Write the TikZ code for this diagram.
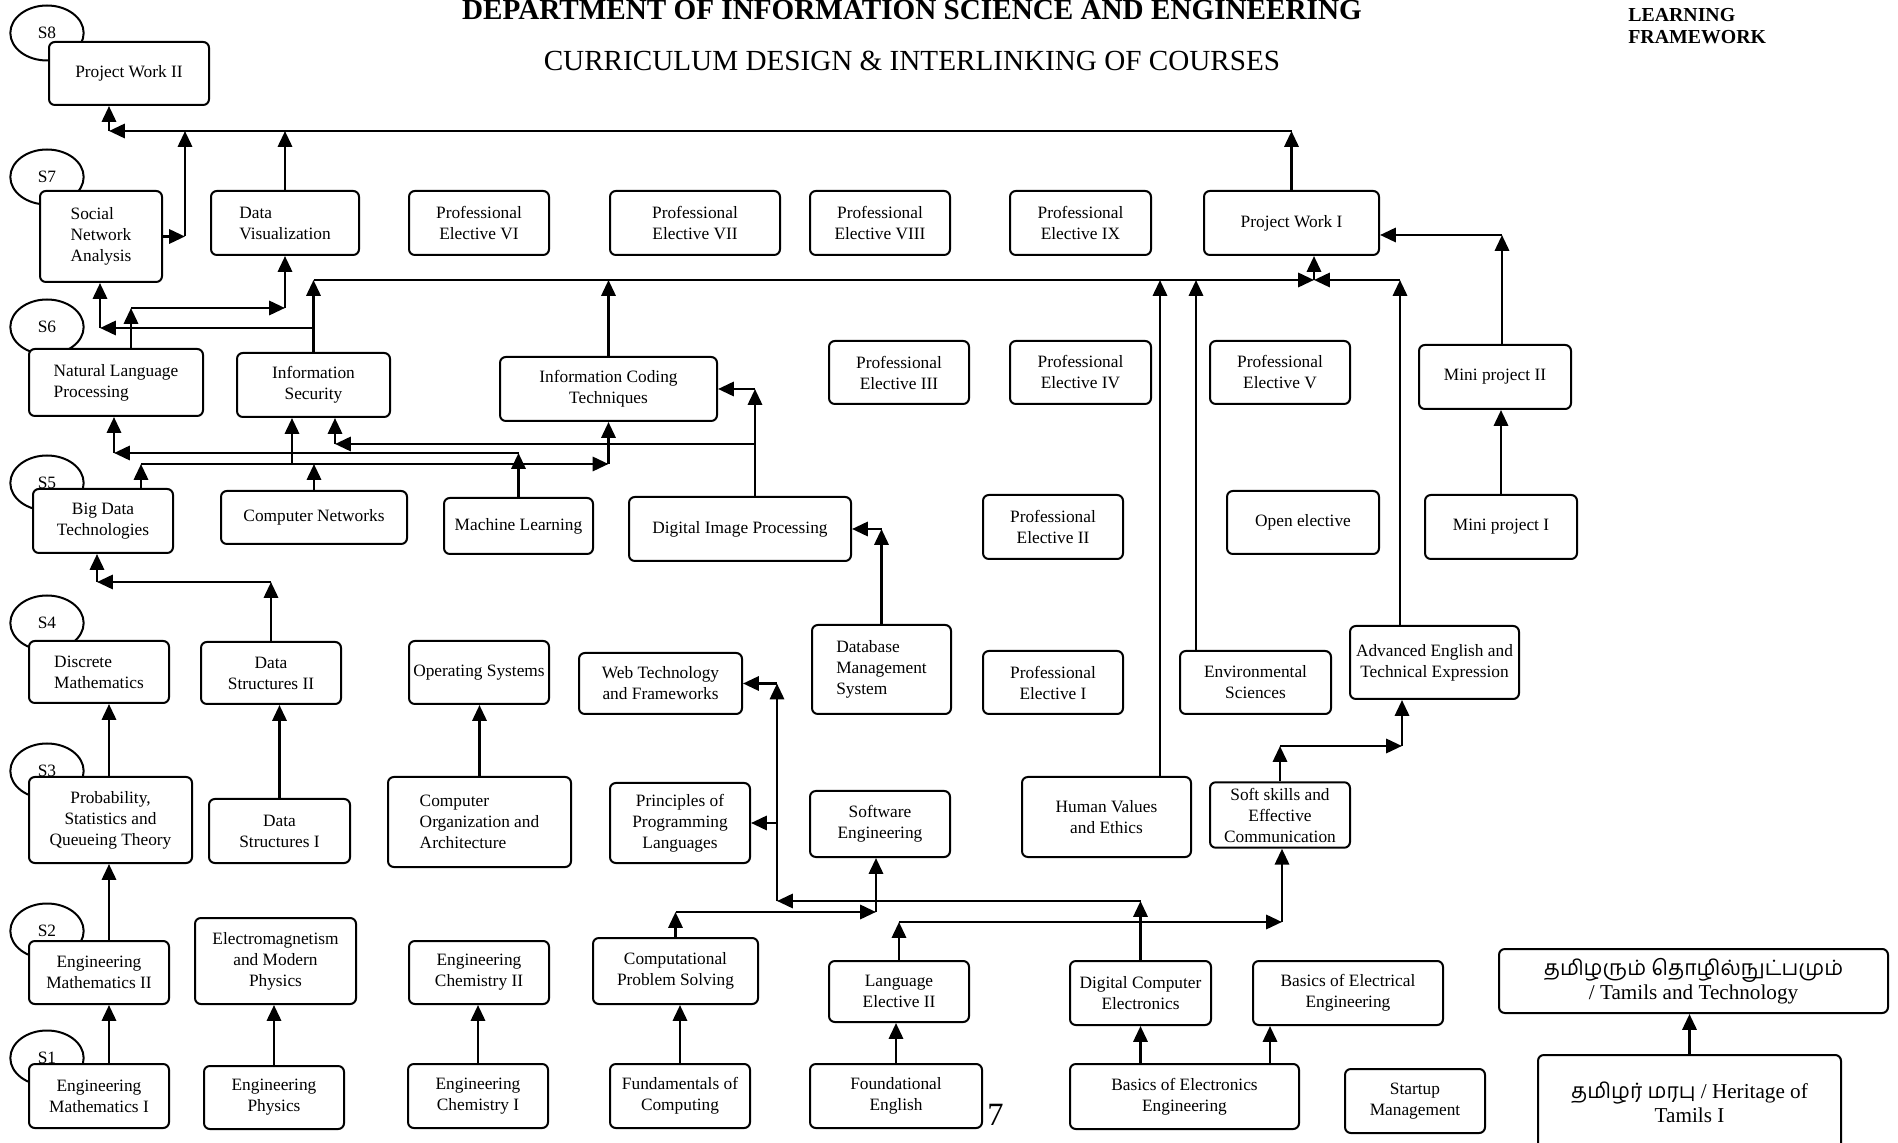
\documentclass[tikz,border=0pt]{standalone}
\usepackage{fontspec}
\setmainfont{Liberation Serif}
\newfontfamily\tamilfont[Script=Tamil]{Hind Madurai}
\usetikzlibrary{arrows.meta,shapes.geometric,calc}

\tikzset{
  course/.style={rectangle,draw=black,line width=1.2pt,rounded corners=3.5pt,fill=white,
    align=center,inner xsep=2pt,font=\fontsize{10.4}{12.6}\selectfont},
  boxsize/.style 2 args={minimum width=#1*0.6pt,minimum height=#2*0.6pt},
  sem/.style={ellipse,draw=black,line width=1.2pt,minimum width=44pt,minimum height=33pt,
    inner sep=0pt,font=\fontsize{10.4}{12.6}\selectfont},
  link/.style={line width=1.6pt,-{Triangle[length=9.5pt,width=8.5pt]}},
}

\begin{document}
\begin{tikzpicture}[x=0.6pt,y=-0.6pt]

  \useasboundingbox (0,0) rectangle (1898,1143);
  \clip (0,0) rectangle (1898,1143);

  \node (dept) [anchor=base,inner sep=0pt,font=\fontsize{17.5}{20}\selectfont\bfseries] at(912,20) {DEPARTMENT OF INFORMATION SCIENCE AND ENGINEERING};
  \node (subtitle) [anchor=base,inner sep=0pt,font=\fontsize{17.5}{20}\selectfont] at(912,71) {CURRICULUM DESIGN \& INTERLINKING OF COURSES};
  \node (framework) [anchor=base west,inner sep=0pt,align=left,font=\fontsize{11.9}{13.2}\selectfont\bfseries] at(1628,44) {LEARNING\\FRAMEWORK};
  \node (pagenum) [anchor=base west,inner sep=0pt,font=\fontsize{19.5}{22}\selectfont] at(987,1125) {7};

  \foreach \s/\y in {8/33,7/177,6/327,5/483,4/623,3/771,2/931,1/1058}
           {
             \node (sem_\s) [sem] at(47,\y) {S\s};
           }

  %% semesters 8 and 7
  \node (proj_2) [course,boxsize={160}{63}] at(129,73.5) {Project Work II};
  \node (sna) [course,boxsize={122}{91},align=left] at(101,236.5) {Social\\Network\\Analysis};
  \node (dataviz) [course,boxsize={148}{64},align=left] at(285,223) {Data\\Visualization};
  \node (elec_6) [course,boxsize={140}{64}] at(479,223) {Professional\\Elective VI};
  \node (elec_7) [course,boxsize={170}{64}] at(695,223) {Professional\\Elective VII};
  \node (elec_8) [course,boxsize={140}{64}] at(880,223) {Professional\\Elective VIII};
  \node (elec_9) [course,boxsize={141}{64}] at(1080.5,223) {Professional\\Elective IX};
  \node (proj_1) [course,boxsize={175}{64}] at(1291.5,223) {Project Work I};

  %% semester 6
  \node (nlp) [course,boxsize={174}{67},align=left] at(116,382.5) {Natural Language\\Processing};
  \node (infosec) [course,boxsize={153}{64}] at(313.5,385) {Information\\Security};
  \node (infocode) [course,boxsize={217}{64}] at(608.5,389) {Information Coding\\Techniques};
  \node (elec_3) [course,boxsize={140}{63}] at(899,372.5) {Professional\\Elective III};
  \node (elec_4) [course,boxsize={141}{63}] at(1080.5,372.5) {Professional\\Elective IV};
  \node (elec_5) [course,boxsize={140}{63}] at(1280,372.5) {Professional\\Elective V};
  \node (mini_2) [course,boxsize={152}{64}] at(1495,377) {Mini project II};

  %% semester 5
  \node (bigdata) [course,boxsize={140}{64}] at(103,521) {Big Data\\Technologies};
  \node (compnet) [course,boxsize={186}{53}] at(314,517.5) {Computer Networks};
  \node (mlearn) [course,boxsize={149}{56}] at(518.5,526) {Machine Learning};
  \node (dip) [course,boxsize={222}{64}] at(740,529) {Digital Image Processing};
  \node (elec_2) [course,boxsize={140}{64}] at(1053,527) {Professional\\Elective II};
  \node (openelec) [course,boxsize={152}{63}] at(1303,522.5) {Open elective};
  \node (mini_1) [course,boxsize={152}{64}] at(1501,527) {Mini project I};

  %% semester 4
  \node (discmath) [course,boxsize={140}{62},align=left] at(99,672) {Discrete\\Mathematics};
  \node (ds_2) [course,boxsize={140}{62}] at(271,673) {Data\\Structures II};
  \node (opsys) [course,boxsize={140}{63}] at(479,672.5) {Operating Systems};
  \node (webtech) [course,boxsize={163}{61}] at(660.5,683.5) {Web Technology\\and Frameworks};
  \node (dbms) [course,boxsize={139}{89},align=left] at(881.5,669.5) {Database\\Management\\System};
  \node (elec_1) [course,boxsize={140}{63}] at(1053,682.5) {Professional\\Elective I};
  \node (envsci) [course,boxsize={151}{63}] at(1255.5,682.5) {Environmental\\Sciences};
  \node (adveng) [course,boxsize={169}{73}] at(1434.5,662.5) {Advanced English and\\Technical Expression};

  %% semester 3
  \node (psqt) [course,boxsize={163}{86}] at(110.5,820) {Probability,\\Statistics and\\Queueing Theory};
  \node (ds_1) [course,boxsize={141}{64}] at(279.5,831) {Data\\Structures I};
  \node (coa) [course,boxsize={183}{90},align=left] at(479.5,822) {Computer\\Organization and\\Architecture};
  \node (ppl) [course,boxsize={140}{80}] at(680,823) {Principles of\\Programming\\Languages};
  \node (softeng) [course,boxsize={140}{66}] at(880,824) {Software\\Engineering};
  \node (humval) [course,boxsize={169}{80}] at(1106.5,817) {Human Values\\and Ethics};
  \node (softskill) [course,boxsize={140}{64}] at(1280,815) {Soft skills and\\Effective\\Communication};

  %% semester 2
  \node (engmath_2) [course,boxsize={140}{63}] at(99,972.5) {Engineering\\Mathematics II};
  \node (emphys) [course,boxsize={161}{86}] at(275.5,961) {Electromagnetism\\and Modern\\Physics};
  \node (engchem_2) [course,boxsize={140}{63}] at(479,972.5) {Engineering\\Chemistry II};
  \node (cps) [course,boxsize={165}{66}] at(675.5,971) {Computational\\Problem Solving};
  \node (lang_2) [course,boxsize={140}{61}] at(899,991.5) {Language\\Elective II};
  \node (dce) [course,boxsize={141}{64}] at(1140.5,993) {Digital Computer\\Electronics};
  \node (bee_elec) [course,boxsize={190}{64}] at(1348,993) {Basics of Electrical\\Engineering};
  \node (tamtech) [course,boxsize={389}{64},font=\fontsize{12.7}{14.4}\selectfont] at(1693.5,981) {{\tamilfont தமிழரும் தொழில்நுட்பமும்}\\/ Tamils and Technology};

  %% semester 1
  \node (engmath_1) [course,boxsize={140}{64}] at(99,1096) {Engineering\\Mathematics I};
  \node (engphys) [course,boxsize={140}{63}] at(274,1097.5) {Engineering\\Physics};
  \node (engchem_1) [course,boxsize={140}{64}] at(478,1096) {Engineering\\Chemistry I};
  \node (foc) [course,boxsize={140}{64}] at(680,1096) {Fundamentals of\\Computing};
  \node (fenglish) [course,boxsize={172}{64}] at(896,1096) {Foundational\\English};
  \node (bee_tron) [course,boxsize={229}{65}] at(1184.5,1096.5) {Basics of Electronics\\Engineering};
  \node (startup) [course,boxsize={140}{64}] at(1415,1101) {Startup\\Management};
  \node (heritage) [course,boxsize={303}{95},font=\fontsize{12.7}{14.4}\selectfont] at(1689.5,1102.5) {{\tamilfont தமிழர் மரபு} / Heritage of\\Tamils I};

  %% joints of the connectors
  \coordinate (bus_8) at (109,131);
  \coordinate (sna_up) at (185,236.5);
  \coordinate (nlp_up) at (131,308);
  \coordinate (bus_7) at (1314,280);
  \coordinate (is_left) at (100,328);
  \coordinate (hv_col) at (1160,280);
  \coordinate (es_col) at (1196,280);
  \coordinate (ae_col) at (1400,280);
  \coordinate (mp_up) at (1502,235);
  \coordinate (ml_left) at (114,453);
  \coordinate (bd_line) at (141,464);
  \coordinate (is_low) at (292,464);
  \coordinate (dip_col) at (755,389);
  \coordinate (dip_br) at (335,444);
  \coordinate (ds_left) at (97,582);
  \coordinate (math_col) at (109,0);
  \coordinate (wt_col) at (777,901);
  \coordinate (cps_r) at (876,912);
  \coordinate (lang_r) at (1282,922);
  \coordinate (ss_r) at (1402,746);
  \coordinate (bel_col) at (1270,0);

  % to project work II
  \draw[link] (proj_1.north) -- (proj_1.north |- bus_8);
  \draw[link] (proj_1.north |- bus_8) -- (bus_8);
  \draw[link] (bus_8) -- (bus_8 |- proj_2.south);
  \draw[link] (sna.east) -- (sna_up);
  \draw[link] (sna_up) -- (sna_up |- bus_8);
  \draw[link] (dataviz.north) -- (dataviz.north |- bus_8);

  % to semester 7
  \draw[link] (nlp_up |- nlp.north) -- (nlp_up);
  \draw[link] (nlp_up) -- (nlp_up -| dataviz.south);
  \draw[link] (nlp_up -| dataviz.south) -- (dataviz.south);
  \draw[link] (infosec.north) -- (infosec.north |- bus_7);
  \draw[link] (infosec.north |- bus_7) -- (bus_7);
  \draw[link] (bus_7) -- (bus_7 |- proj_1.south);
  \draw[link] (infosec.north |- is_left) -- (is_left);
  \draw[link] (is_left) -- (is_left |- sna.south);
  \draw[link] (infocode.north) -- (infocode.north |- bus_7);
  \draw[link] (hv_col |- humval.north) -- (hv_col);
  \draw[link] (es_col |- envsci.north) -- (es_col);
  \draw[link] (ae_col |- adveng.north) -- (ae_col);
  \draw[link] (ae_col) -- (bus_7);
  \draw[link] (mp_up |- mini_2.north) -- (mp_up);
  \draw[link] (mp_up) -- (mp_up -| proj_1.east);
  \draw[link] (mini_1.north) -- (mini_1.north |- mini_2.south);

  % to semester 6
  \draw[link] (mlearn.north) -- (mlearn.north |- ml_left);
  \draw[link] (mlearn.north |- ml_left) -- (ml_left);
  \draw[link] (ml_left) -- (ml_left |- nlp.south);
  \draw[link] (bd_line |- bigdata.north) -- (bd_line);
  \draw[link] (compnet.north) -- (compnet.north |- bd_line);
  \draw[link] (bd_line) -- (bd_line -| infocode.south);
  \draw[link] (bd_line -| infocode.south) -- (infocode.south);
  \draw[link] (is_low) -- (is_low |- infosec.south);
  \draw[link] (dip_col |- dip.north) -- (dip_col);
  \draw[link] (dip_col) -- (infocode.east);
  \draw[link] (dip_col |- dip_br) -- (dip_br);
  \draw[link] (dip_br) -- (dip_br |- infosec.south);
  \draw[link] (dbms.north) -- (dbms.north |- dip.east);
  \draw[link] (dbms.north |- dip.east) -- (dip.east);

  % to semesters 5 and 4
  \draw[link] (ds_2.north) -- (ds_2.north |- ds_left);
  \draw[link] (ds_2.north |- ds_left) -- (ds_left);
  \draw[link] (ds_left) -- (ds_left |- bigdata.south);
  \draw[link] (math_col |- psqt.north) -- (math_col |- discmath.south);
  \draw[link] (ds_1.north) -- (ds_1.north |- ds_2.south);
  \draw[link] (coa.north) -- (coa.north |- opsys.south);

  % to semesters 3 and 4
  \draw[link] (dce.north) -- (dce.north |- wt_col);
  \draw[link] (dce.north |- wt_col) -- (wt_col);
  \draw[link] (wt_col) -- (wt_col |- webtech.east);
  \draw[link] (wt_col |- webtech.east) -- (webtech.east);
  \draw[link] (wt_col |- ppl.east) -- (ppl.east);
  \draw[link] (cps.north) -- (cps.north |- cps_r);
  \draw[link] (cps.north |- cps_r) -- (cps_r);
  \draw[link] (cps_r) -- (cps_r |- softeng.south);
  \draw[link] (lang_2.north) -- (lang_2.north |- lang_r);
  \draw[link] (lang_2.north |- lang_r) -- (lang_r);
  \draw[link] (lang_r) -- (lang_r |- softskill.south);
  \draw[link] (softskill.north) -- (softskill.north |- ss_r);
  \draw[link] (softskill.north |- ss_r) -- (ss_r);
  \draw[link] (ss_r) -- (ss_r |- adveng.south);

  % first year
  \draw[link] (math_col |- engmath_2.north) -- (math_col |- psqt.south);
  \draw[link] (math_col |- engmath_1.north) -- (math_col |- engmath_2.south);
  \draw[link] (engphys.north) -- (engphys.north |- emphys.south);
  \draw[link] (engchem_1.north) -- (engchem_1.north |- engchem_2.south);
  \draw[link] (foc.north) -- (foc.north |- cps.south);
  \draw[link] (fenglish.north) -- (fenglish.north |- lang_2.south);
  \draw[link] (dce.south |- bee_tron.north) -- (dce.south);
  \draw[link] (bel_col |- bee_tron.north) -- (bel_col |- bee_elec.south);
  \draw[link] (heritage.north) -- (heritage.north |- tamtech.south);

\end{tikzpicture}
\end{document}
